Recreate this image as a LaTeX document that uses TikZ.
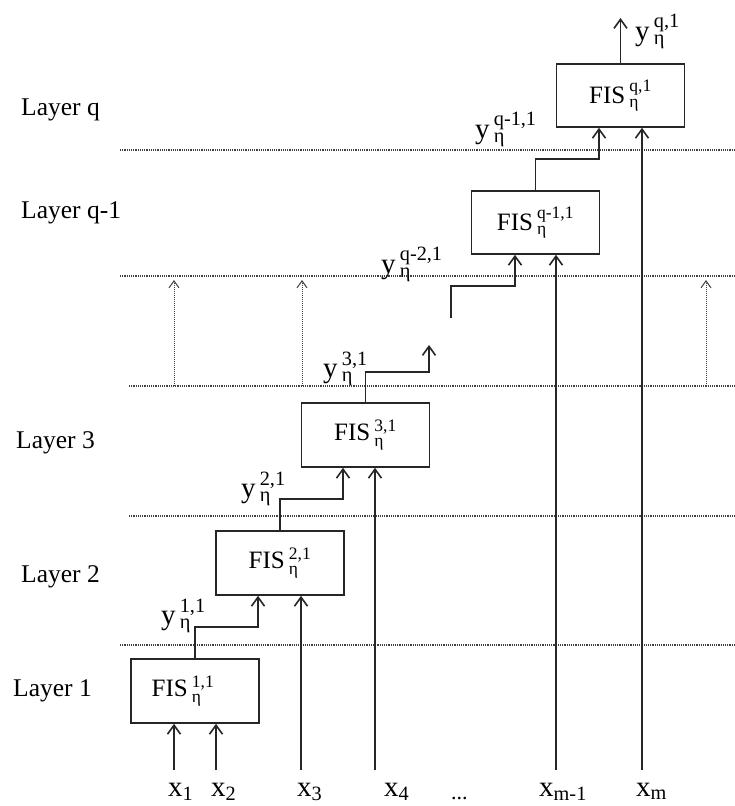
\documentclass[tikz,border=0pt]{standalone}
\usepackage{fontspec}
\setmainfont{Liberation Serif}
\usepackage{amsmath}
\usetikzlibrary{arrows.meta}
\newcommand{\lbl}[3]{$\text{#1}\mkern3mu{}^{\text{#2}}_{\text{#3}}$}
\newcommand{\xsub}[1]{$\text{x}_{\text{#1}}$}
\begin{document}
\begin{tikzpicture}[x=1pt,y=-1pt,
  ln/.style={line width=1.6pt, draw=black!85},
  arr/.style={ln, -{Straight Barb[length=9pt,width=13pt,line width=1.6pt]}},
  darr/.style={line width=1pt, densely dotted, draw=black!75, -{Straight Barb[length=7pt,width=10pt,line width=1pt]}},
  seprule/.style={line width=1.2pt, densely dotted, draw=black!75},
  fis/.style={draw=black!85, line width=1.6pt, minimum width=128pt, minimum height=64pt, inner sep=0pt, font=\fontsize{25}{29}\selectfont},
  lay/.style={anchor=west, inner sep=0pt, font=\fontsize{25.5}{30}\selectfont},
  yl/.style={anchor=base west, inner sep=0pt, font=\fontsize{29}{33}\selectfont},
]
\useasboundingbox[fill=white] (0,0) rectangle (735,806);

% layer separators
\coordinate (h1a) at (120,150); \coordinate (h1b) at (735,150);
\coordinate (h2a) at (120,276); \coordinate (h2b) at (735,276);
\coordinate (h3a) at (129,386); \coordinate (h3b) at (735,386);
\coordinate (h4a) at (129,516); \coordinate (h4b) at (735,516);
\coordinate (h5a) at (120,645); \coordinate (h5b) at (735,645);
\draw[seprule] (h1a) -- (h1b);
\draw[seprule] (h2a) -- (h2b);
\draw[seprule] (h3a) -- (h3b);
\draw[seprule] (h4a) -- (h4b);
\draw[seprule] (h5a) -- (h5b);

% layer labels
\node[lay] (lq)  at (21,110) {Layer q};
\node[lay] (lq1) at (21,213) {Layer q-1};
\node[lay] (l3)  at (16,443) {Layer 3};
\node[lay] (l2)  at (21,577) {Layer 2};
\node[lay] (l1)  at (13,691) {Layer 1};

% FIS boxes
\node[fis] (f1)  at (195,691)   {\lbl{FIS}{1,1}{η}\hspace*{24pt}};
\node[fis] (f2)  at (280,563)   {\lbl{FIS}{2,1}{η}};
\node[fis] (f3)  at (365.5,435) {\lbl{FIS}{3,1}{η}};
\node[fis, minimum height=63pt] (fq1) at (535.5,222.5) {\lbl{FIS}{q-1,1}{η}};
\node[fis, minimum height=63pt] (fq)  at (620.5,95.5)  {\lbl{FIS}{q,1}{η}};

% inputs
\coordinate (b1) at (174,770);
\coordinate (b2) at (216,770);
\coordinate (b3) at (301,770);
\coordinate (b4) at (375,770);
\coordinate (bm1) at (556,770);
\coordinate (bm) at (642,770);
\draw[arr] (b1) -- (b1 |- f1.south);
\draw[arr] (b2) -- (b2 |- f1.south);
\draw[arr] (b3) -- (b3 |- f2.south);
\draw[arr] (b4) -- (b4 |- f3.south);
\draw[arr] (bm1) -- (bm1 |- fq1.south);
\draw[arr] (bm) -- (bm |- fq.south);

% input labels
\node[yl] (x1) at (168,796) {\xsub{1}};
\node[yl] (x2) at (211,796) {\xsub{2}};
\node[yl] (x3) at (297,796) {\xsub{3}};
\node[yl] (x4) at (384,796) {\xsub{4}};
\node[yl, font=\fontsize{22}{26}\selectfont] (xd) at (451,799) {...};
\node[yl] (xm1) at (539,796) {\xsub{m-1}};
\node[yl] (xm) at (636,796) {\xsub{m}};

% layer-to-layer connections
\coordinate (s1) at (258,627);
\draw[arr] (f1.north) |- (s1) -- (s1 |- f2.south);
\coordinate (s2) at (343,499);
\draw[arr] (f2.north) |- (s2) -- (s2 |- f3.south);
\coordinate (s3) at (429,372);
\coordinate (e3) at (429,345);
\draw[arr] (f3.north) |- (s3) -- (e3);
\coordinate (s4a) at (451,318);
\coordinate (s4) at (515,286);
\draw[arr] (s4a) |- (s4) -- (s4 |- fq1.south);
\coordinate (s5) at (599,159);
\draw[arr] (fq1.north) |- (s5) -- (s5 |- fq.south);
\coordinate (out) at (620.5,18);
\draw[arr] (fq.north) -- (out);

% dotted arrows
\coordinate (d1) at (174,386); \coordinate (d1u) at (174,280);
\coordinate (d2) at (302,386); \coordinate (d2u) at (302,280);
\coordinate (d3) at (706,386); \coordinate (d3u) at (706,280);
\draw[darr] (d1) -- (d1u);
\draw[darr] (d2) -- (d2u);
\draw[darr] (d3) -- (d3u);

% output labels
\node[yl] (y1) at (161,624) {\lbl{y}{1,1}{η}};
\node[yl] (y2) at (241,497) {\lbl{y}{2,1}{η}};
\node[yl] (y3) at (323,377) {\lbl{y}{3,1}{η}};
\node[yl] (yq2) at (381,273) {\lbl{y}{q-2,1}{η}};
\node[yl] (yq1) at (475,138) {\lbl{y}{q-1,1}{η}};
\node[yl] (yq) at (635,40) {\lbl{y}{q,1}{η}};
\end{tikzpicture}
\end{document}
